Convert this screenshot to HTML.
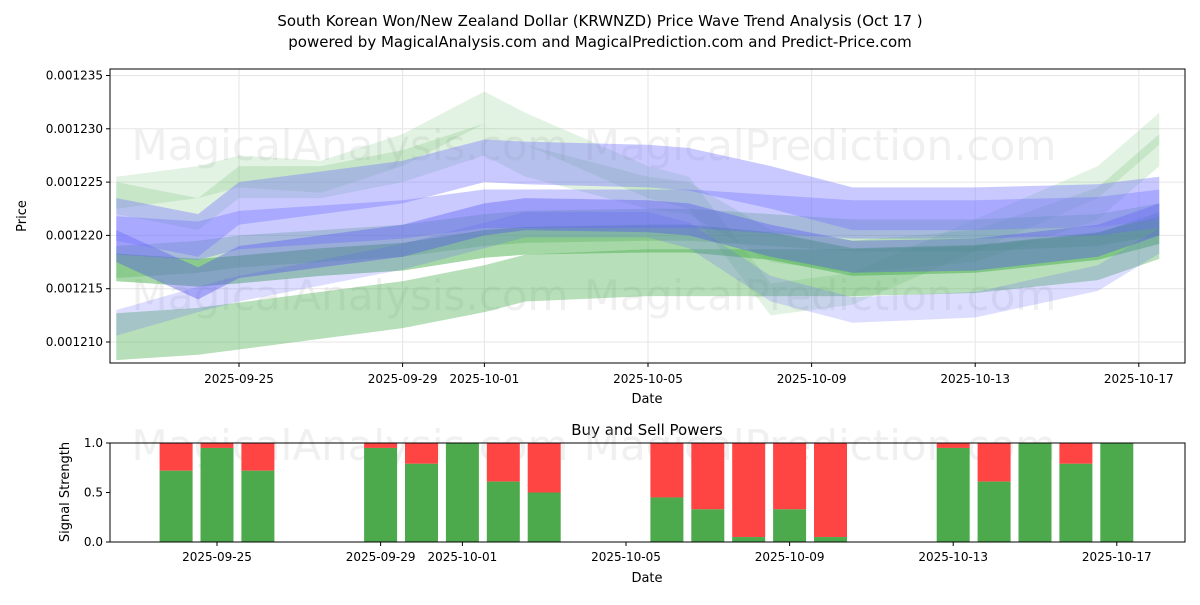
<!DOCTYPE html>
<html><head><meta charset="utf-8"><style>
body{margin:0;background:#fff;font-family:"Liberation Sans","DejaVu Sans",sans-serif}
svg text{font-family:"DejaVu Sans","Liberation Sans",sans-serif}
</style></head><body>
<svg id="c" width="1200" height="600" viewBox="0 0 1200 600">
<text x="600" y="26" text-anchor="middle" font-size="15">South Korean Won/New Zealand Dollar (KRWNZD) Price Wave Trend Analysis (Oct 17 )</text>
<text x="600" y="47" text-anchor="middle" font-size="15">powered by MagicalAnalysis.com and MagicalPrediction.com and Predict-Price.com</text>
<defs><clipPath id="clipTop"><rect x="110" y="69" width="1075" height="294"/></clipPath></defs>
<g id="topg"></g><g id="botg"></g>
</svg>
<script>
const dayIdx=[0,2,3,5,7,9,10,13,14,16,18,21,24,25.5];
const blueA=[1.2215,1.2200,1.2230,1.2240,1.2250,1.2270,1.2268,1.2265,1.2262,1.2245,1.2225,1.2225,1.2228,1.2235];
const blueB=[1.2200,1.2195,1.2205,1.2210,1.2215,1.2225,1.2225,1.2225,1.2225,1.2220,1.2215,1.2215,1.2218,1.2225];
const blueC=[1.2190,1.2155,1.2175,1.2185,1.2195,1.2215,1.2220,1.2218,1.2215,1.2195,1.2180,1.2182,1.2195,1.2215];
const blueD=[1.2118,1.2140,1.2150,1.2165,1.2180,1.2200,1.2210,1.2210,1.2200,1.2150,1.2130,1.2135,1.2160,1.2195];
const greenLow=[1.2105,1.2110,1.2115,1.2125,1.2135,1.2150,1.2160,1.2165,1.2165,1.2165,1.2165,1.2168,1.2180,1.2200];
const greenMid=[1.2170,1.2165,1.2168,1.2175,1.2180,1.2192,1.2195,1.2197,1.2197,1.2190,1.2175,1.2178,1.2190,1.2205];
const greenUpperMid=[1.2175,1.2180,1.2185,1.2190,1.2195,1.2205,1.2208,1.2210,1.2210,1.2205,1.2200,1.2200,1.2205,1.2215];
const greenWavy=[1.2240,1.2250,1.2260,1.2255,1.2280,1.2320,1.2300,1.2250,1.2240,1.2140,1.2150,1.2200,1.2250,1.2300];
const greenWavy2=[1.2235,1.2220,1.2250,1.2250,1.2265,1.2290,1.2270,1.2240,1.2235,1.2190,1.2180,1.2190,1.2230,1.2280];
const yTicks=[1.210,1.215,1.220,1.225,1.230,1.235];
const yTickLabels=["0.001210","0.001215","0.001220","0.001225","0.001230","0.001235"];
const xTickDays=[3,7,9,13,17,21,25];
const xTickLabels=["2025-09-25","2025-09-29","2025-10-01","2025-10-05","2025-10-09","2025-10-13","2025-10-17"];
const barDays=[2,3,4,7,8,9,10,11,14,15,16,17,18,21,22,23,24,25];
const buyPower=[0.72,0.95,0.72,0.95,0.79,1.0,0.61,0.5,0.45,0.33,0.05,0.33,0.05,0.95,0.61,1.0,0.79,1.0];
const NS="http://www.w3.org/2000/svg";
function el(t,a,p){const e=document.createElementNS(NS,t);for(const k in a)e.setAttribute(k,a[k]);p.appendChild(e);return e;}
const gTop=document.getElementById('topg'),gBot=document.getElementById('botg');
const X=d=>239+(d-3)*40.9, Y=v=>342-(v-1.210)/0.005*53.3;
const XB=d=>217+(d-3)*40.9, YB=v=>542-v*99;
yTicks.forEach((v,i)=>{el('line',{x1:110,x2:1185,y1:Y(v),y2:Y(v),stroke:'#e6e6e6'},gTop);
 el('line',{x1:106,x2:110,y1:Y(v),y2:Y(v),stroke:'#000'},gTop);
 const t=el('text',{x:103,y:Y(v)+4,'text-anchor':'end','font-size':12},gTop);t.textContent=yTickLabels[i];
 
 });
xTickDays.forEach((d,i)=>{el('line',{x1:X(d),x2:X(d),y1:69,y2:363,stroke:'#e6e6e6'},gTop);
 el('line',{x1:X(d),x2:X(d),y1:363,y2:367,stroke:'#000'},gTop);
 const t=el('text',{x:X(d),y:383,'text-anchor':'middle','font-size':12},gTop);t.textContent=xTickLabels[i];
 
 });
[[350,160],[820,160],[350,310],[820,310]].forEach(p=>{const t=el('text',{x:p[0],y:p[1],'text-anchor':'middle','font-size':42,fill:'#ccc','fill-opacity':0.3},gTop);t.textContent=p[0]<600?'MagicalAnalysis.com':'MagicalPrediction.com';
 
 });
const bandG=el('g',{'clip-path':'url(#clipTop)'},gTop);
function band(c,w,col,op,name){const up=dayIdx.map((d,i)=>X(d)+','+Y(c[i]+w));const lo=dayIdx.map((d,i)=>X(d)+','+Y(c[i]-w)).reverse();
 const p=el('polygon',{points:up.concat(lo).join(' '),fill:col,'fill-opacity':op},bandG);
 
 }
band(greenLow,0.0022,'#4caf50',0.4,'green-band-low');
band(greenUpperMid,0.0015,'#4caf50',0.3,'green-band-upper-mid');
band(greenMid,0.0013,'#4caf50',0.5,'green-band-mid');
band(greenWavy,0.0015,'#4caf50',0.16,'green-band-wavy');
band(greenWavy2,0.0015,'#4caf50',0.18,'green-band-wavy2');
band(blueD,0.0012,'#6666ff',0.22,'blue-band-d');
band(blueC,0.0015,'#5555ee',0.4,'blue-band-c');
band(blueB,0.0018,'#6666ff',0.35,'blue-band-b');
band(blueA,0.002,'#7777ff',0.4,'blue-band-a');
el('rect',{x:110,y:69,width:1075,height:294,fill:'none',stroke:'#000'},gTop);
let t=el('text',{x:647,y:403,'text-anchor':'middle','font-size':13},gTop);t.textContent='Date';
t=el('text',{x:26,y:216,'text-anchor':'middle','font-size':13,transform:'rotate(-90 26 216)'},gTop);t.textContent='Price';
const bt=el('text',{x:647,y:435,'text-anchor':'middle','font-size':15},gBot);bt.textContent='Buy and Sell Powers';
[[350,460],[820,460]].forEach(p=>{const w=el('text',{x:p[0],y:p[1],'text-anchor':'middle','font-size':42,fill:'#ccc','fill-opacity':0.3},gBot);w.textContent=p[0]<600?'MagicalAnalysis.com':'MagicalPrediction.com';});
barDays.forEach((d,i)=>{const x=XB(d)-16.5;
 const r=el('rect',{x:x,y:YB(1),width:33,height:YB(buyPower[i])-YB(1),fill:'#ff4444'},gBot);
 
 
 const g=el('rect',{x:x,y:YB(buyPower[i]),width:33,height:YB(0)-YB(buyPower[i]),fill:'#4caa4c'},gBot);
 
 });
[[0,'0.0'],[0.5,'0.5'],[1,'1.0']].forEach(a=>{el('line',{x1:106,x2:110,y1:YB(a[0]),y2:YB(a[0]),stroke:'#000'},gBot);
 const q=el('text',{x:103,y:YB(a[0])+4,'text-anchor':'end','font-size':12},gBot);q.textContent=a[1];});
xTickDays.forEach((d,i)=>{el('line',{x1:XB(d),x2:XB(d),y1:542,y2:546,stroke:'#000'},gBot);
 const q=el('text',{x:XB(d),y:561,'text-anchor':'middle','font-size':12},gBot);q.textContent=xTickLabels[i];});
el('rect',{x:110,y:443,width:1075,height:99,fill:'none',stroke:'#000'},gBot);
t=el('text',{x:647,y:582,'text-anchor':'middle','font-size':13},gBot);t.textContent='Date';
t=el('text',{x:69,y:492,'text-anchor':'middle','font-size':13,transform:'rotate(-90 69 492)'},gBot);t.textContent='Signal Strength';
</script>
</body></html>
